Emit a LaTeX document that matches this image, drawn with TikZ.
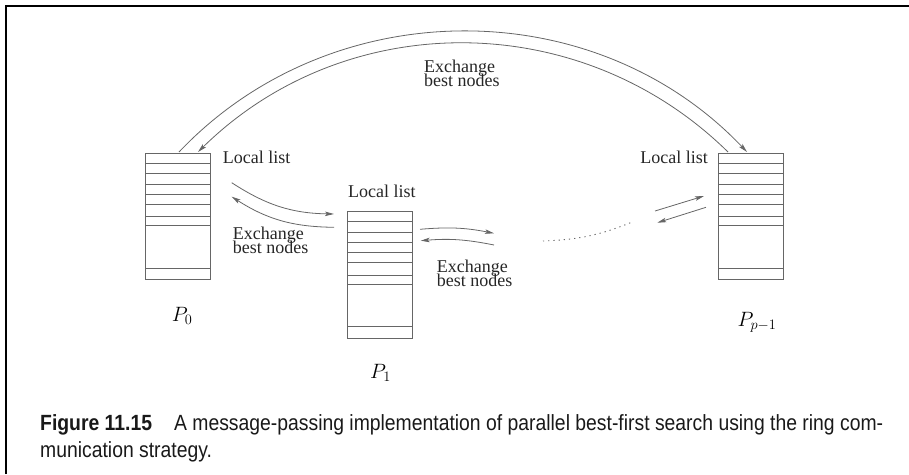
\documentclass[tikz,border=0pt]{standalone}
\usepackage{fontspec}
\setmainfont{Liberation Serif}
\newfontfamily\capfont[FakeStretch=0.88]{Liberation Sans}
\usetikzlibrary{arrows.meta}
% let the baseline distance rule even when lines would touch
\newcommand\tightlines{\lineskiplimit=-20pt\relax\lineskip=0pt\relax}

\begin{document}
\begin{tikzpicture}[x=1pt,y=1pt,
  listbox/.style={draw=black!60, line width=0.9pt, minimum width=65pt,
    minimum height=126.7pt, inner sep=0pt, anchor=north west},
  rowline/.style={draw=black!60, line width=0.9pt},
  lbl/.style={font=\fontsize{18}{14}\selectfont\tightlines,
    inner sep=0pt, text=black!85},
  flow/.style={draw=black!60, line width=0.8pt,
    -{Stealth[length=9pt,width=4.5pt,inset=2pt]}},
  pname/.style={font=\fontsize{20}{24}\selectfont, inner sep=0pt, anchor=base west}]

\useasboundingbox (0,0) rectangle (909,474);

% frame on the top and left edges
\draw[line width=2pt] (6,0) -- (6,468) -- (909,468);

% local lists of the processors
\node[listbox] (L0) at (145,321.3) {};
\node[listbox] (L1) at (347,263) {};
\node[listbox] (L2) at (718,321.3) {};
\foreach \b in {L0,L1,L2}
  \foreach \o in {10.3,21,31.8,41.7,51.5,64,73,115.7}
    \draw[rowline] ([yshift=-\o pt]\b.north west) -- ([yshift=-\o pt]\b.north east);

% list captions
\node[lbl, anchor=base west] (t0) at (222.7,310) {Local list};
\node[lbl, anchor=base west] (t1) at (348,276.7) {Local list};
\node[lbl, anchor=base east] (t2) at (708,310) {Local list};

% exchange labels
\node[lbl, align=left, anchor=north west] (x0) at (232.7,247) {Exchange\\best nodes};
\node[lbl, align=left, anchor=north west] (x1) at (436.7,214.6) {Exchange\\best nodes};
\node[lbl, align=left, anchor=north west] (x2) at (424,414.6) {Exchange\\best nodes};

% long link between P0 and P_{p-1}
\coordinate (a0) at (179,322);
\coordinate (a1) at (747,322);
\coordinate (b0) at (728,322);
\coordinate (b1) at (198,322);
\draw[flow] (a0) to[bend left=46.5] (a1);
\draw[flow] (b0) to[bend right=44.5] (b1);

% link P0 <-> P1
\coordinate (c0) at (231.7,291.3);
\coordinate (c1) at (334,260);
\coordinate (d0) at (334,246.7);
\coordinate (d1) at (231.7,277.3);
\draw[flow] (c0) to[bend right=16] (c1);
\draw[flow] (d0) to[bend left=16] (d1);

% link P1 <-> next
\coordinate (e0) at (420,244.7);
\coordinate (e1) at (494,240.7);
\coordinate (f0) at (494,229);
\coordinate (f1) at (420.7,233.3);
\draw[flow] (e0) to[bend left=8] (e1);
\draw[flow] (f0) to[bend right=8] (f1);

% remaining processors
\coordinate (g0) at (543,233);
\coordinate (g1) at (633,252.3);
\draw[draw=black!60, line width=0.9pt, dash pattern=on 1.2pt off 4pt] (g0) to[bend right=10] (g1);

% link previous <-> P_{p-1}
\coordinate (h0) at (655,263);
\coordinate (h1) at (704,278);
\coordinate (k0) at (706,266.7);
\coordinate (k1) at (657.3,251.3);
\draw[flow] (h0) -- (h1);
\draw[flow] (k0) -- (k1);

% processor names
\node[pname] (p0) at (171.7,152.3) {$P_0$};
\node[pname] (p1) at (370,95.7) {$P_1$};
\node[pname] (p2) at (737.3,147.4) {$P_{p-1}$};

% figure caption
\node[anchor=north west, inner sep=0pt, align=left, text=black!90,
      font=\capfont\fontsize{22}{27}\selectfont] (cap) at (40,60)
  {\textbf{Figure 11.15}\quad A message-passing implementation of parallel best-first search using the ring com-\\munication strategy.};
\end{tikzpicture}
\end{document}
